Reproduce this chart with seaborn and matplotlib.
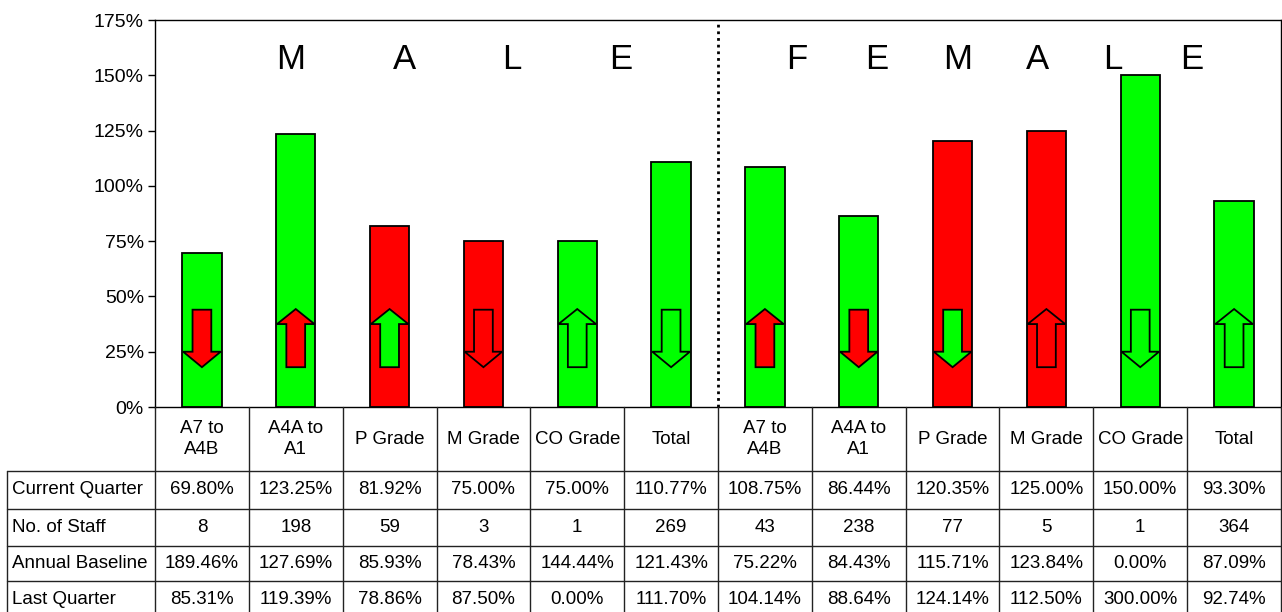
import pandas as pd
import seaborn as sns
import matplotlib.pyplot as plt
from matplotlib.patches import Polygon

# data
categories = ['A7 to\nA4B', 'A4A to\nA1', 'P Grade', 'M Grade', 'CO Grade', 'Total',
              'A7 to\nA4B', 'A4A to\nA1', 'P Grade', 'M Grade', 'CO Grade', 'Total']
gender = ['Male'] * 6 + ['Female'] * 6
current_quarter = [69.80, 123.25, 81.92, 75.00, 75.00, 110.77,
                   108.75, 86.44, 120.35, 125.00, 150.00, 93.30]
no_of_staff = [8, 198, 59, 3, 1, 269, 43, 238, 77, 5, 1, 364]
annual_baseline = [189.46, 127.69, 85.93, 78.43, 144.44, 121.43,
                   75.22, 84.43, 115.71, 123.84, 0.00, 87.09]
last_quarter = [85.31, 119.39, 78.86, 87.50, 0.00, 111.70,
                104.14, 88.64, 124.14, 112.50, 300.00, 92.74]
bar_status = ['g', 'g', 'r', 'r', 'g', 'g', 'g', 'g', 'r', 'r', 'g', 'g']
arrow_dir = ['down', 'up', 'up', 'down', 'up', 'down',
             'up', 'down', 'down', 'up', 'down', 'up']
arrow_status = ['r', 'r', 'g', 'r', 'g', 'g', 'r', 'r', 'g', 'r', 'g', 'g']

GREEN = '#00ff00'
RED = '#ff0000'
cmap = {'g': GREEN, 'r': RED}

df = pd.DataFrame({
    'slot': [f'{g} {c}' for g, c in zip(gender, categories)],
    'value': current_quarter,
})

sns.set_style('white')
plt.rcParams['font.family'] = ['Liberation Sans', 'DejaVu Sans']
plt.rcParams['text.color'] = 'black'
plt.rcParams['ytick.color'] = 'black'
plt.rcParams['xtick.color'] = 'black'

W, H = 1282, 612
fig = plt.figure(figsize=(W / 100, H / 100), dpi=100)
ax = fig.add_axes([155 / W, 205 / H, 1126 / W, 387 / H])

sns.barplot(data=df, x='slot', y='value', hue='slot',
            palette={s: cmap[b] for s, b in zip(df['slot'], bar_status)},
            legend=False, width=0.42, edgecolor='black', linewidth=1.3,
            saturation=1, ax=ax)

# trend arrows inside bars
for i, (d, s) in enumerate(zip(arrow_dir, arrow_status)):
    hw, sw = 0.2, 0.1
    if d == 'down':
        pts = [(i - sw, 44), (i + sw, 44), (i + sw, 25), (i + hw, 25),
               (i, 18), (i - hw, 25), (i - sw, 25)]
    else:
        pts = [(i - sw, 18), (i + sw, 18), (i + sw, 37.5), (i + hw, 37.5),
               (i, 44.3), (i - hw, 37.5), (i - sw, 37.5)]
    ax.add_patch(Polygon(pts, closed=True, facecolor=cmap[s],
                         edgecolor='black', linewidth=1.3, zorder=5))

ax.axvline(5.5, color='black', linestyle=(0, (1, 1.4)), linewidth=2)

for x, ch in zip([0.95, 2.16, 3.30, 4.46], 'MALE'):
    ax.text(x, 157, ch, ha='center', va='center', fontsize=25)
for x, ch in zip([6.34, 7.19, 8.05, 8.91, 9.71, 10.55], 'FEMALE'):
    ax.text(x, 157, ch, ha='center', va='center', fontsize=25)

ax.set_xlim(-0.5, 11.5)
ax.set_ylim(0, 175)
ax.set_yticks(range(0, 176, 25))
ax.set_yticklabels([f'{t}%' for t in range(0, 176, 25)], fontsize=14)
ax.set_xticks([])
ax.set_xlabel('')
ax.set_ylabel('')
ax.tick_params(axis='y', direction='out', length=5, width=1, left=True, pad=3)
for sp in ax.spines.values():
    sp.set_visible(True)
    sp.set_color('black')
    sp.set_linewidth(1)

# data table under the chart
tab = fig.add_axes([155 / W, 0, 1126 / W, 205 / H])
tab.set_xlim(-0.5, 11.5)
tab.set_ylim(205, 0)
tab.axis('off')
col_w = 1126 / 12
x_left = -0.5 - (155 - 7) / col_w
row_lines = [64, 102, 139, 174]
lc = '#222222'
for i in range(13):
    tab.plot([i - 0.5, i - 0.5], [0, 205], color=lc, lw=1, clip_on=False)
tab.plot([x_left, x_left], [64, 205], color=lc, lw=1, clip_on=False)
for y in row_lines:
    tab.plot([x_left, 11.5], [y, y], color=lc, lw=1, clip_on=False)

for i, c in enumerate(categories):
    tab.text(i, 32, c, ha='center', va='center', fontsize=13.5, linespacing=1.35)

rows = [
    ('Current Quarter', [f'{v:.2f}%' for v in current_quarter]),
    ('No. of Staff', [str(v) for v in no_of_staff]),
    ('Annual Baseline', [f'{v:.2f}%' for v in annual_baseline]),
    ('Last Quarter', [f'{v:.2f}%' for v in last_quarter]),
]
row_mid = [83, 120.5, 156.5, 192]
for (label, vals), y in zip(rows, row_mid):
    tab.text(x_left + 5 / col_w, y, label, ha='left', va='center', fontsize=13.5, clip_on=False)
    for i, v in enumerate(vals):
        tab.text(i, y, v, ha='center', va='center', fontsize=13.5)

fig.savefig('out.png', dpi=100)
